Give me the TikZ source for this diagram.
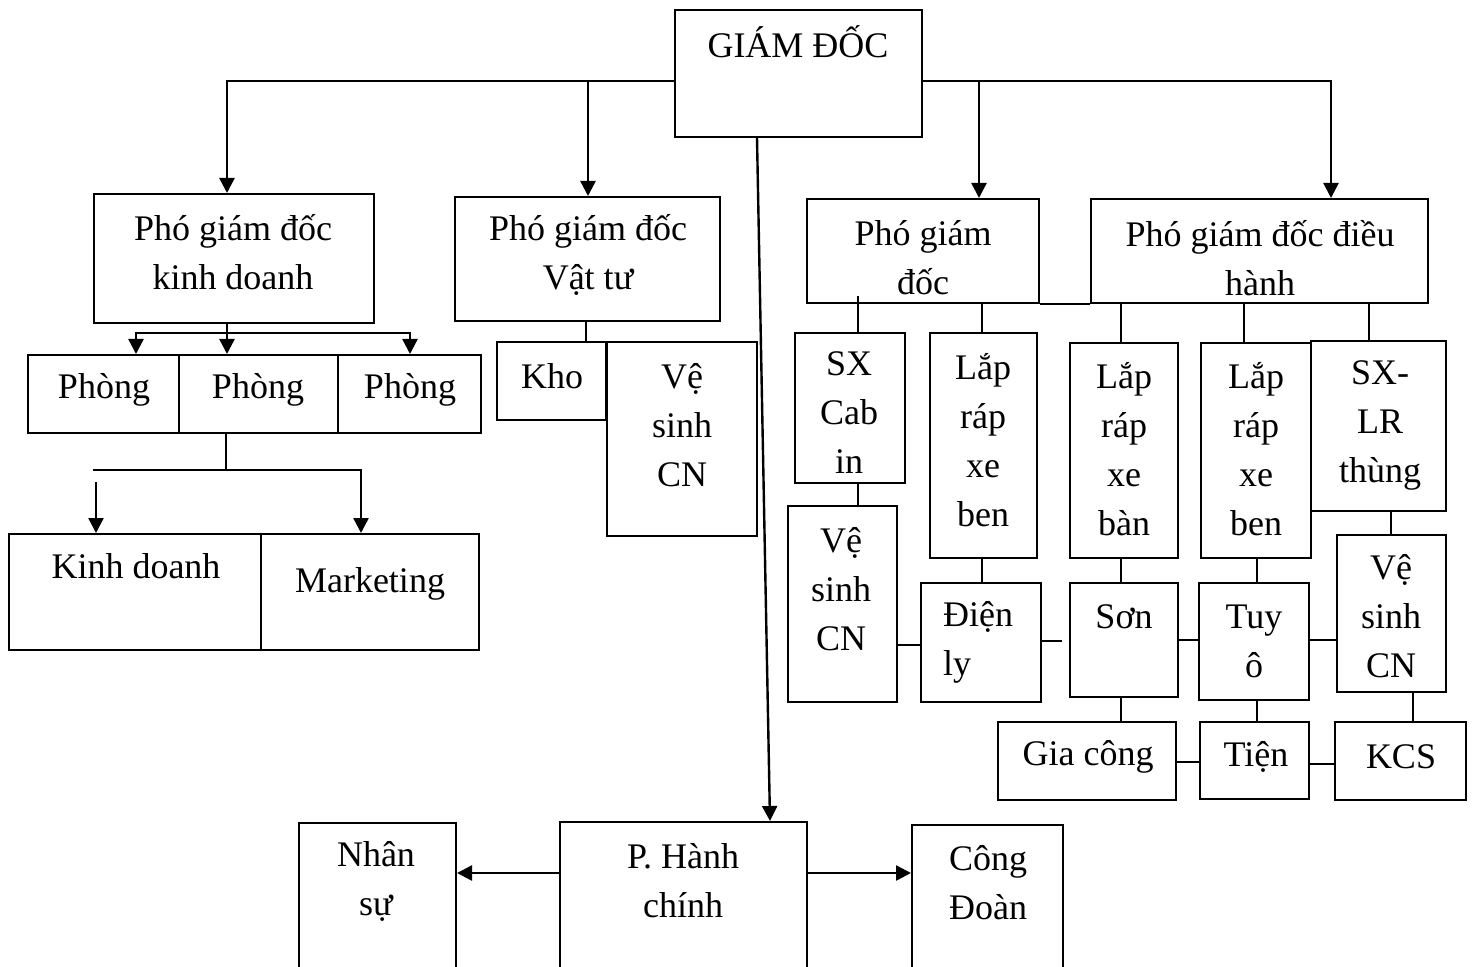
\documentclass[tikz,border=0pt]{standalone}
\usepackage{fontspec}
\setmainfont{Liberation Serif}
\usetikzlibrary{arrows.meta,fit}
\begin{document}
\begin{tikzpicture}[x=0.5pt,y=-0.5pt,
box/.style={
% The shape:
rectangle,
draw=black,
line width=1pt,
inner sep=0pt
},
txt/.style={
align=center,
inner sep=0pt,
font=\fontsize{18}{24.5}\selectfont
},
link/.style={line width=0.9pt},
arr/.style={line width=1.2pt,-{Triangle[length=7.5pt,width=7.5pt]}}
]
\useasboundingbox (0,0) rectangle (1476,967);
% Boxes:
\node (gd) [box,fit={(675,10) (922,137)}] {};
\node (pkd) [box,fit={(94,194) (374,323)}] {};
\node (pvt) [box,fit={(455,197) (720,321)}] {};
\node (p3) [box,fit={(807,199) (1039,303)}] {};
\node (pdh) [box,fit={(1091,199) (1428,303)}] {};
\node (ph1) [box,fit={(28,355) (179,433)}] {};
\node (ph2) [box,fit={(179,355) (338,433)}] {};
\node (ph3) [box,fit={(338,355) (481,433)}] {};
\node (kd) [box,fit={(9,534) (261,650)}] {};
\node (mk) [box,fit={(261,534) (479,650)}] {};
\node (kho) [box,fit={(497,342) (606,420)}] {};
\node (vsm) [box,fit={(607,342) (757,536)}] {};
\node (sxc) [box,fit={(795,333) (905,483)}] {};
\node (lb1) [box,fit={(930,333) (1037,558)}] {};
\node (lbn) [box,fit={(1070,343) (1178,558)}] {};
\node (lb2) [box,fit={(1201,343) (1311,558)}] {};
\node (sxt) [box,fit={(1311,341) (1446,511)}] {};
\node (vsl) [box,fit={(788,506) (897,702)}] {};
\node (dly) [box,fit={(921,583) (1041,702)}] {};
\node (son) [box,fit={(1070,583) (1178,697)}] {};
\node (tuy) [box,fit={(1199,583) (1309,700)}] {};
\node (vsr) [box,fit={(1337,535) (1446,692)}] {};
\node (gc) [box,fit={(998,722) (1176,800)}] {};
\node (tien) [box,fit={(1200,722) (1309,799)}] {};
\node (kcs) [box,fit={(1335,722) (1466,800)}] {};
\node (ns) [box,fit={(299,823) (456,975)}] {};
\node (phc) [box,fit={(560,822) (807,975)}] {};
\node (cd) [box,fit={(912,825) (1063,975)}] {};
% Texts:
\node (gd-t) [txt] at (798,42) {GIÁM ĐỐC};
\node (pkd-t) [txt] at (233,252) {Phó giám đốc\\kinh doanh};
\node (pvt-t) [txt] at (588,255) {Phó giám đốc\\Vật tư};
\node (p3-t) [txt] at (923,258) {Phó giám\\đốc};
\node (pdh-t) [txt] at (1260,258) {Phó giám đốc điều\\hành};
\node (ph1-t) [txt] at (104,390) {Phòng};
\node (ph2-t) [txt] at (258,390) {Phòng};
\node (ph3-t) [txt] at (410,390) {Phòng};
\node (kd-t) [txt] at (136,566) {Kinh doanh};
\node (mk-t) [txt] at (370,584) {Marketing};
\node (kho-t) [txt] at (552,376) {Kho};
\node (vsm-t) [txt] at (682,425) {Vệ\\sinh\\CN};
\node (sxc-t) [txt] at (849,413) {SX\\Cab\\in};
\node (lb1-t) [txt] at (983,440) {Lắp\\ráp\\xe\\ben};
\node (lbn-t) [txt] at (1124,449) {Lắp\\ráp\\xe\\bàn};
\node (lb2-t) [txt] at (1256,449) {Lắp\\ráp\\xe\\ben};
\node (sxt-t) [txt] at (1380,425) {SX-\\LR\\thùng};
\node (vsl-t) [txt] at (841,589) {Vệ\\sinh\\CN};
\node (dly-t) [txt,align=left] at (978,642) {Điện\\ly};
\node (son-t) [txt] at (1124,617) {Sơn};
\node (tuy-t) [txt] at (1254,641) {Tuy\\ô};
\node (vsr-t) [txt] at (1391,616) {Vệ\\sinh\\CN};
\node (gc-t) [txt] at (1088,757) {Gia công};
\node (tien-t) [txt] at (1256,757) {Tiện};
\node (kcs-t) [txt] at (1401,757) {KCS};
\node (ns-t) [txt] at (376,881) {Nhân\\sự};
\node (phc-t) [txt] at (683,881) {P. Hành\\chính};
\node (cd-t) [txt] at (988,883) {Công\\Đoàn};
% Director to deputies:
\coordinate (busvt) at (588,81);
\coordinate (bus3) at (979,81);
\draw[link] (gd.west |- busvt) -- (busvt);
\draw[arr] (busvt) -| (pkd.north -| 227,0);
\draw[arr] (busvt) -- (pvt.north -| busvt);
\draw[link] (gd.east |- bus3) -- (bus3);
\draw[arr] (bus3) -- (p3.north -| bus3);
\draw[arr] (bus3) -| (pdh.north -| 1331,0);
\draw[arr] (gd.south -| 757,0) -- (phc.north -| 770,0);
\draw[arr] (phc.west |- 0,873) -- (ns.east |- 0,873);
\draw[arr] (phc.east |- 0,873) -- (cd.west |- 0,873);
% Business branch:
\coordinate (busph) at (227,333);
\draw[arr] (pkd.south -| busph) -- (ph2.north -| busph);
\draw[arr] (busph) -| (ph1.north -| 136,0);
\draw[arr] (busph) -| (ph3.north -| 410,0);
\coordinate (buskd) at (226,470);
\draw[link] (ph2.south -| buskd) -- (buskd);
\draw[link] (93,470) -- (362,470);
\draw[arr] (96,482) -- (kd.north -| 96,0);
\draw[arr] (361,470) -- (mk.north -| 361,0);
% Supplies branch:
\draw[link] (pvt.south -| 586,0) -- (kho.north -| 586,0);
% Production branch:
\draw[link] (p3.south east) -- (pdh.south west);
\draw[link] (858,296) -- (sxc.north -| 858,0);
\draw[link] (p3.south -| 982,0) -- (lb1.north -| 982,0);
\draw[link] (pdh.south -| 1121,0) -- (lbn.north -| 1121,0);
\draw[link] (pdh.south -| 1244,0) -- (lb2.north -| 1244,0);
\draw[link] (pdh.south -| 1369,0) -- (sxt.north -| 1369,0);
\draw[link] (sxc.south -| 858,0) -- (vsl.north -| 858,0);
\draw[link] (lb1.south -| 982,0) -- (dly.north -| 982,0);
\draw[link] (lbn.south -| 1121,0) -- (son.north -| 1121,0);
\draw[link] (lb2.south -| 1257,0) -- (tuy.north -| 1257,0);
\draw[link] (sxt.south -| 1391,0) -- (vsr.north -| 1391,0);
\draw[link] (son.south -| 1121,0) -- (gc.north -| 1121,0);
\draw[link] (tuy.south -| 1257,0) -- (tien.north -| 1257,0);
\draw[link] (vsr.south -| 1413,0) -- (kcs.north -| 1413,0);
\draw[link] (vsl.east |- 0,645) -- (dly.west |- 0,645);
\draw[link] (dly.east |- 0,641) -- (1062,641);
\draw[link] (son.east |- 0,640) -- (tuy.west |- 0,640);
\draw[link] (tuy.east |- 0,640) -- (vsr.west |- 0,640);
\draw[link] (gc.east |- 0,762) -- (tien.west |- 0,762);
\draw[link] (tien.east |- 0,764) -- (kcs.west |- 0,764);
\end{tikzpicture}
\end{document}
